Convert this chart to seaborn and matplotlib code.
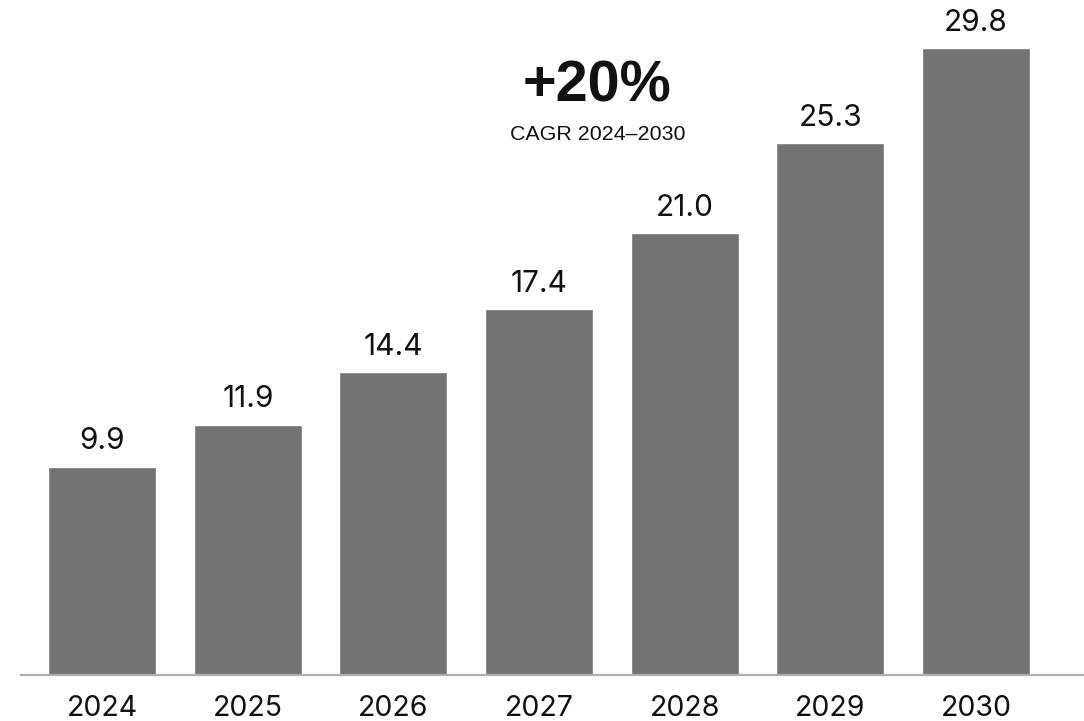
import matplotlib
matplotlib.use("Agg")
import matplotlib.pyplot as plt
import pandas as pd
import seaborn as sns

# data
years = ["2024", "2025", "2026", "2027", "2028", "2029", "2030"]
values = [9.9, 11.9, 14.4, 17.4, 21.0, 25.3, 29.8]
headline = "+20%"
subline = "CAGR 2024\u20132030"

df = pd.DataFrame({"Year": years, "Value": values})

sns.set_style("white")
plt.rcParams["font.family"] = ["Inter", "Liberation Sans", "DejaVu Sans"]

fig = plt.figure(figsize=(10.84, 7.21), dpi=100)
ax = fig.add_axes([21 / 1084, 1 - 675 / 721, 1 - 21 / 1084, 675 / 721])

sns.barplot(data=df, x="Year", y="Value", color="#737373", saturation=1,
            width=0.742, ax=ax)

for i, v in enumerate(values):
    ax.annotate(f"{v:.1f}", xy=(i, v), xytext=(0, 12.5), textcoords="offset points",
                ha="center", va="baseline", fontsize=21.5, color="#111111")

ax.set_xlim(-0.557, 6.742)
ax.set_ylim(0, 32.1)
ax.set_xlabel("")
ax.set_ylabel("")
ax.set_yticks([])
ax.tick_params(axis="x", length=0, pad=14.5, labelsize=20.5, colors="#111111")

for s in ["top", "right", "left"]:
    ax.spines[s].set_visible(False)
ax.spines["bottom"].set_color("#b0b0b0")
ax.spines["bottom"].set_linewidth(1.6)

fig.text(596.7 / 1084, 1 - 101.7 / 721, headline, ha="center", va="baseline",
         fontsize=41.5, fontweight="bold", color="#111111",
         family=["Liberation Sans", "DejaVu Sans"])
fig.text(598 / 1084, 1 - 140 / 721, subline, ha="center", va="baseline",
         fontsize=15.4, color="#111111", family=["Liberation Sans", "DejaVu Sans"])

fig.savefig("out.png", dpi=100)
